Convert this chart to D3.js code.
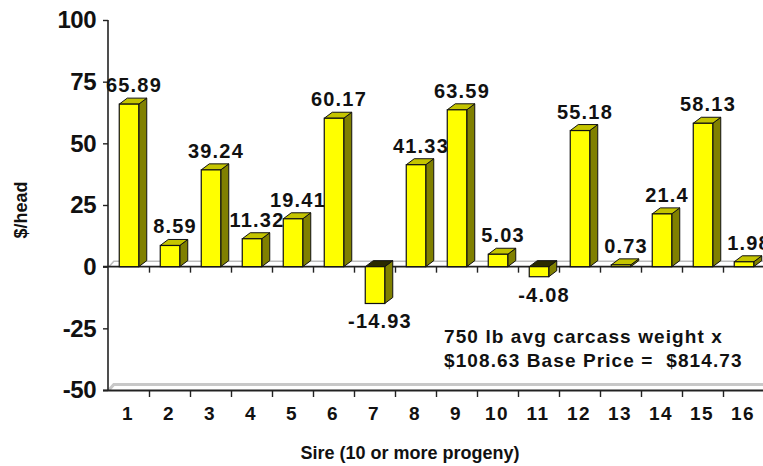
<!DOCTYPE html>
<html><head><meta charset="utf-8">
<script src="https://cdn.jsdelivr.net/npm/d3@7"></script>
<style>
html,body{margin:0;padding:0;background:#fff;overflow:hidden}
svg{display:block}
text{font-family:"Liberation Sans",Arial,sans-serif;font-weight:bold;fill:#111;white-space:pre}
</style></head>
<body>
<svg id="c" width="763" height="466"></svg>
<script>
const sires = ["1","2","3","4","5","6","7","8","9","10","11","12","13","14","15","16"];
const values = [65.89, 8.59, 39.24, 11.32, 19.41, 60.17, -14.93, 41.33, 63.59, 5.03, -4.08, 55.18, 0.73, 21.4, 58.13, 1.98];
const valueLabels = ["65.89","8.59","39.24","11.32","19.41","60.17","-14.93","41.33","63.59","5.03","-4.08","55.18","0.73","21.4","58.13","1.98"];
const yTicks = [-50, -25, 0, 25, 50, 75, 100];
const yTitle = "$/head";
const xTitle = "Sire (10 or more progeny)";
const noteLines = ["750 lb avg carcass weight x", "$108.63 Base Price =  $814.73"];

const svg = d3.select("#c");
const x = d3.scaleBand().domain(sires).range([108.5, 764.5]).padding(0);
const y = d3.scaleLinear().domain([-50, 100]).range([390, 20]);
const dx = 8, dy = 6;
const fw = 19.5;
const y0 = y(0);

// bottom floor (3D)
svg.append("path").attr("d", `M109,${y(-50)} L${109+dx*0.6},${y(-50)-dy+0.5} L763,${y(-50)-dy+0.5}`)
  .attr("fill","none").attr("stroke","#c8c8c8").attr("stroke-width",3);
// zero floor back line
svg.append("path").attr("d", `M109,${y0} L${109+dx*0.6},${y0-dy+0.5} L763,${y0-dy+0.5}`)
  .attr("fill","none").attr("stroke","#bdbdbd").attr("stroke-width",1.5);

// y axis
const yAxis = d3.axisLeft(y).tickValues(yTicks).tickSize(5).tickPadding(7).tickFormat(d => String(d));
const ga = svg.append("g").attr("transform","translate(108,0)").call(yAxis);
ga.select(".domain").attr("stroke","#222").attr("stroke-width",1.6).attr("d",`M0,${y(100)}V${y(-50)+1}`);
ga.selectAll(".tick line").attr("stroke","#222").attr("stroke-width",1.4);
ga.selectAll(".tick text").style("font-size","24px").style("font-family","'Liberation Sans',Arial,sans-serif").style("font-weight","bold").attr("fill","#111").attr("letter-spacing","-0.5px");

// zero line
svg.append("line").attr("x1",103).attr("x2",763).attr("y1",y0).attr("y2",y0).attr("stroke","#222").attr("stroke-width",1.6);
// bottom axis line
svg.append("line").attr("x1",103).attr("x2",763).attr("y1",y(-50)+0.5).attr("y2",y(-50)+0.5).attr("stroke","#222").attr("stroke-width",1.8);

const bounds = sires.slice(1).map(s => x(s));
bounds.forEach(b => {
  svg.append("line").attr("x1",b).attr("x2",b).attr("y1",y0).attr("y2",y0+6).attr("stroke","#222").attr("stroke-width",1.4);
  svg.append("line").attr("x1",b).attr("x2",b).attr("y1",y(-50)+1).attr("y2",y(-50)+7).attr("stroke","#222").attr("stroke-width",1.4);
});

// bars
const g = svg.append("g");
sires.forEach((s, i) => {
  const v = values[i];
  const cx = x(s) + x.bandwidth()/2;
  const x0 = cx - fw/2, x1 = cx + fw/2;
  const yt = Math.min(y(v), y0), yb = Math.max(y(v), y0);
  g.append("path").attr("d", `M${x1},${yt} L${x1+dx},${yt-dy} L${x1+dx},${yb-dy} L${x1},${yb} Z`)
    .attr("fill","#808000").attr("stroke","#111").attr("stroke-width",1).attr("stroke-linejoin","round");
  g.append("path").attr("d", `M${x0},${yt} L${x0+dx},${yt-dy} L${x1+dx},${yt-dy} L${x1},${yt} Z`)
    .attr("fill", v >= 0 ? "#c4c400" : "#2a2a00").attr("stroke","#111").attr("stroke-width",1).attr("stroke-linejoin","round");
  g.append("rect").attr("x",x0).attr("y",yt).attr("width",fw).attr("height",Math.max(yb-yt,0.5))
    .attr("fill","#ffff00").attr("stroke","#111").attr("stroke-width",1.2);
  const ly = v >= 0 ? yt - dy - 6 : yb + 25;
  g.append("text").attr("x", cx + 5).attr("y", ly).attr("text-anchor","middle")
    .style("font-size","20px").attr("letter-spacing","1.2px").text(valueLabels[i]);
});

// x tick labels
sires.forEach(s => {
  svg.append("text").attr("x", x(s) + x.bandwidth()/2 - 1).attr("y", 420).attr("text-anchor","middle")
    .style("font-size","19px").attr("letter-spacing","1.5px").text(s);
});

// titles
svg.append("text").attr("x", 410).attr("y", 459).attr("text-anchor","middle")
  .style("font-size","18px").attr("letter-spacing","0px").text(xTitle);
svg.append("text").attr("transform","translate(27,210) rotate(-90)").attr("text-anchor","middle")
  .style("font-size","18px").text(yTitle);

// note
noteLines.forEach((t, i) => {
  svg.append("text").attr("x", 444).attr("y", 343 + i*24).style("font-size","19px").attr("letter-spacing","1.1px").text(t);
});
</script>
</body></html>
